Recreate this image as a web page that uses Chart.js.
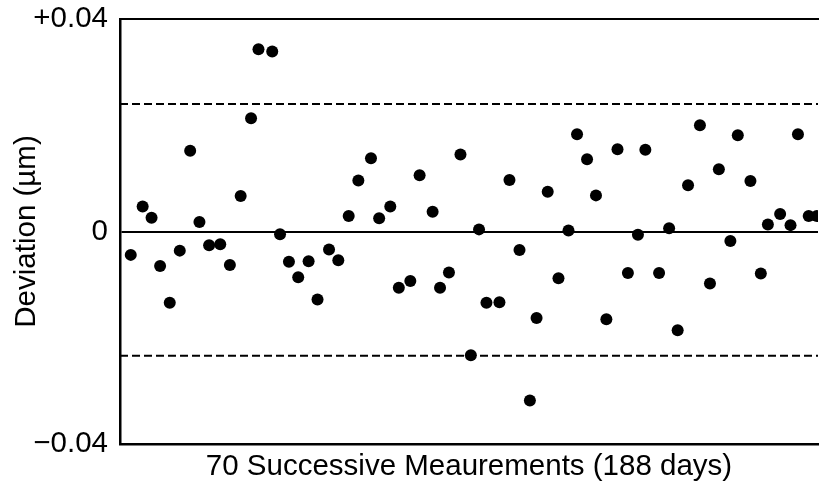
<!DOCTYPE html>
<html>
<head>
<meta charset="utf-8">
<script src="https://cdn.jsdelivr.net/npm/chart.js@4/dist/chart.umd.min.js"></script>
<style>
  html, body { margin: 0; padding: 0; background: #fff; }
  #wrap { width: 824px; height: 487px; position: relative; }
</style>
</head>
<body>
<div id="wrap"><canvas id="chart"></canvas></div>
<script>
// x: day of measurement (188 days), y: deviation in µm
const days = [2.9, 6.1, 8.5, 10.8, 13.4, 16.1, 18.9, 21.4, 24.0, 27.0,
  29.6, 32.5, 35.3, 37.3, 41.0, 43.1, 45.5, 48.0, 50.8, 53.2,
  56.3, 58.8, 61.6, 64.2, 67.6, 69.8, 72.8, 75.1, 78.2, 80.7,
  84.2, 86.2, 88.6, 91.7, 94.5, 96.7, 98.7, 102.2, 104.9, 107.6,
  110.4, 112.2, 115.2, 118.1, 120.8, 123.1, 125.8, 128.2, 131.0, 134.0,
  136.8, 139.5, 141.5, 145.2, 147.9, 150.2, 153.0, 156.2, 158.9, 161.3,
  164.4, 166.4, 169.8, 172.6, 174.5, 177.8, 180.6, 182.6, 185.5, 187.7];

const deviations = [-0.0044, 0.0047, 0.0026, -0.0065, -0.0134, -0.0036, 0.0152, 0.0018, -0.0026, -0.0024,
  -0.0063, 0.0067, 0.0213, 0.0343, 0.0339, -0.0005, -0.0057, -0.0086, -0.0056, -0.0128,
  -0.0034, -0.0054, 0.0029, 0.0096, 0.0138, 0.0025, 0.0047, -0.0106, -0.0093, 0.0106,
  0.0037, -0.0106, -0.0077, 0.0145, -0.0233, 0.0004, -0.0134, -0.0133, 0.0097, -0.0035,
  -0.0318, -0.0163, 0.0075, -0.0088, 0.0002, 0.0183, 0.0136, 0.0068, -0.0165, 0.0155,
  -0.0078, -0.0006, 0.0154, -0.0078, 0.0006, -0.0186, 0.0087, 0.0200, -0.0098, 0.0117,
  -0.0018, 0.0181, 0.0095, -0.0079, 0.0013, 0.0033, 0.0012, 0.0183, 0.0029, 0.0029];

const limits = [0.024, -0.0234];
const dayRange = [0, 188];
const yTicks = [-0.04, 0, 0.04];
const yTickLabels = ["\u22120.04", "0", "+0.04"];

const font = { family: "'Liberation Sans', Arial, Helvetica, sans-serif", size: 29.5 };

const points = days.map((d, i) => ({ x: d, y: deviations[i] }));

const limitSets = limits.map((v) => ({
  type: "line",
  data: dayRange.map((d) => ({ x: d, y: v })),
  borderColor: "#000",
  borderWidth: 2,
  borderDash: [8, 4],
  pointRadius: 0,
  fill: false,
}));

new Chart(document.getElementById("chart").getContext("2d"), {
  type: "scatter",
  data: {
    datasets: [
      ...limitSets,
      {
        data: points,
        backgroundColor: "#000",
        borderWidth: 0,
        pointRadius: 6,
        pointHoverRadius: 6,
      },
    ],
  },
  options: {
    responsive: true,
    maintainAspectRatio: false,
    animation: false,
    events: [],
    layout: { padding: { top: 19, right: 0, bottom: 0, left: 0 } },
    plugins: { legend: { display: false }, tooltip: { enabled: false } },
    scales: {
      x: {
        type: "linear",
        position: "bottom",
        min: dayRange[0],
        max: dayRange[1],
        ticks: { display: false },
        grid: { display: false },
        border: { display: true, color: "#000", width: 2.5 },
        title: {
          display: true,
          text: "70 Successive Meaurements (188 days)",
          color: "#000",
          font: font,
          padding: { top: 0, bottom: 2 },
        },
        afterFit: (scale) => { scale.height = 43; },
      },
      xTop: {
        type: "linear",
        position: "top",
        min: dayRange[0],
        max: dayRange[1],
        ticks: { display: false },
        grid: { display: false },
        border: { display: true, color: "#000", width: 2 },
        afterFit: (scale) => { scale.height = 0; },
      },
      y: {
        type: "linear",
        min: -0.04,
        max: 0.04,
        afterBuildTicks: (scale) => {
          scale.ticks = yTicks.map((v) => ({ value: v }));
        },
        ticks: {
          color: "#000",
          font: font,
          padding: 12,
          callback: (value) => {
            const i = yTicks.findIndex((t) => Math.abs(t - value) < 1e-9);
            return i >= 0 ? yTickLabels[i] : "";
          },
        },
        grid: {
          drawTicks: false,
          lineWidth: 2,
          color: (ctx) => (ctx.tick && ctx.tick.value === 0 ? "#000" : "rgba(0,0,0,0)"),
        },
        border: { display: true, color: "#000", width: 2.5 },
        title: {
          display: true,
          text: "Deviation (µm)",
          color: "#000",
          font: font,
          padding: { top: 9, bottom: 0 },
        },
        afterFit: (scale) => {
          scale.width = 120;
          scale.paddingTop = 0;
          scale.paddingBottom = 0;
        },
      },
    },
  },
});
</script>
</body>
</html>
